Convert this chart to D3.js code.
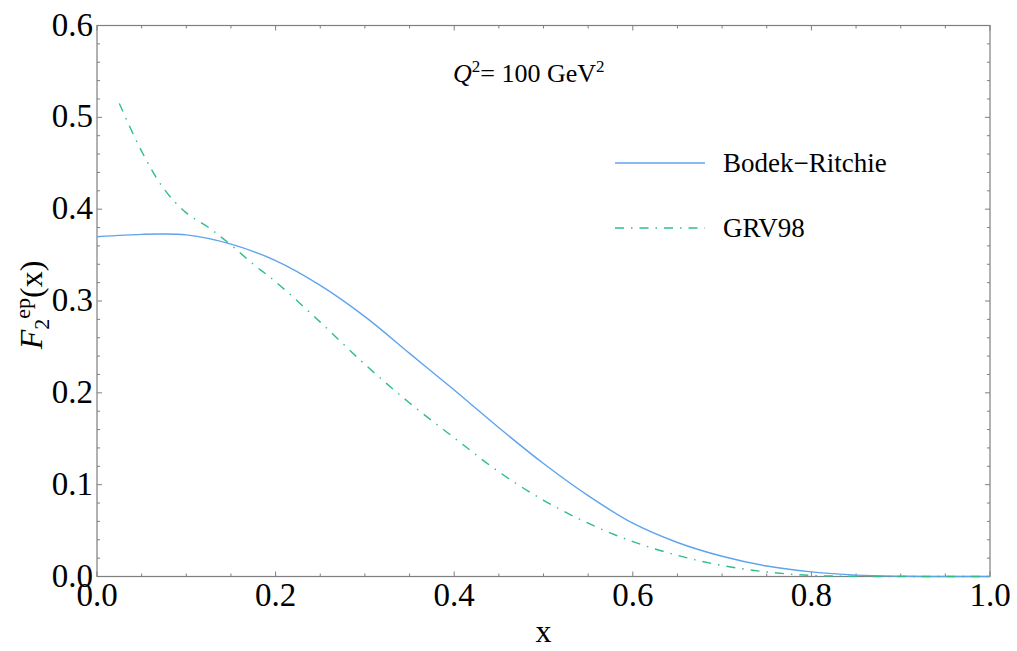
<!DOCTYPE html>
<html>
<head>
<meta charset="utf-8">
<script src="https://cdn.jsdelivr.net/npm/d3@7/dist/d3.min.js"></script>
<style>
  html, body { margin: 0; padding: 0; background: #fff; }
  svg { display: block; }
  text { font-family: "Liberation Serif", "Times New Roman", serif; fill: #000; }
</style>
</head>
<body>
<svg id="chart" width="1017" height="651"></svg>
<script>
// ---- Data ----
const brX = [0, 0.05, 0.07, 0.1, 0.15, 0.2, 0.25, 0.3, 0.35, 0.4, 0.45, 0.5, 0.55, 0.6, 0.65, 0.7, 0.75, 0.8, 0.85, 0.9, 0.95, 1.0];
const brY = [0.370, 0.3725, 0.373, 0.372, 0.362, 0.344, 0.317, 0.283, 0.243, 0.203, 0.162, 0.123, 0.088, 0.058, 0.037, 0.022, 0.0114, 0.005, 0.0015, 0.0003, 0, 0];
const grvX = [0.025, 0.05, 0.075, 0.1, 0.125, 0.15, 0.175, 0.2, 0.25, 0.3, 0.35, 0.4, 0.45, 0.5, 0.55, 0.6, 0.65, 0.7, 0.75, 0.8, 0.85, 0.9, 1.0];
const grvY = [0.515, 0.463, 0.422, 0.396, 0.380, 0.361, 0.340, 0.321, 0.277, 0.231, 0.189, 0.151, 0.114, 0.083, 0.058, 0.038, 0.023, 0.012, 0.005, 0.0012, 0.0002, 0, 0];
const seriesNames = ["Bodek\u2212Ritchie", "GRV98"];
const xTickLabels = ["0.0", "0.2", "0.4", "0.6", "0.8", "1.0"];
const yTickLabels = ["0.0", "0.1", "0.2", "0.3", "0.4", "0.5", "0.6"];

// ---- Layout ----
const svg = d3.select("#chart");
const L = 97, R = 990, T = 25.5, B = 576.5;
const x = d3.scaleLinear().domain([0, 1]).range([L, R]);
const y = d3.scaleLinear().domain([0, 0.6]).range([B, T]);
const frameColor = "#7f7f7f";
const blue = "#5fa3ef", green = "#2fbe8a";

// frame
svg.append("rect").attr("x", L).attr("y", T).attr("width", R - L).attr("height", B - T)
  .attr("fill", "none").attr("stroke", frameColor).attr("stroke-width", 1.2);

// ticks (inward, on all four sides)
const xMajor = xTickLabels.map(Number);
const xMinor = d3.range(0, 1.0001, 0.05).filter(v => !xMajor.some(m => Math.abs(m - v) < 1e-6));
const yMajor = yTickLabels.map(Number);
const yMinor = d3.range(0, 0.6001, 0.02).filter(v => !yMajor.some(m => Math.abs(m - v) < 1e-6));
const tg = svg.append("g").attr("stroke", frameColor).attr("stroke-width", 1);
function xt(v, len) {
  tg.append("line").attr("x1", x(v)).attr("x2", x(v)).attr("y1", B).attr("y2", B - len);
  tg.append("line").attr("x1", x(v)).attr("x2", x(v)).attr("y1", T).attr("y2", T + len);
}
function yt(v, len) {
  tg.append("line").attr("y1", y(v)).attr("y2", y(v)).attr("x1", L).attr("x2", L + len);
  tg.append("line").attr("y1", y(v)).attr("y2", y(v)).attr("x1", R).attr("x2", R - len);
}
xMajor.forEach(v => xt(v, 5)); xMinor.forEach(v => xt(v, 3));
yMajor.forEach(v => yt(v, 5)); yMinor.forEach(v => yt(v, 3));

// tick labels
svg.append("g").selectAll("text").data(xTickLabels).join("text")
  .attr("x", d => x(+d)).attr("y", B + 29).attr("text-anchor", "middle")
  .attr("font-size", 33).text(d => d);
svg.append("g").selectAll("text").data(yTickLabels).join("text")
  .attr("x", L - 4).attr("y", d => y(+d) + 10).attr("text-anchor", "end")
  .attr("font-size", 33).text(d => d);

// axis labels
svg.append("text").attr("x", (L + R) / 2).attr("y", 642).attr("text-anchor", "middle")
  .attr("font-size", 32).text("x");
const yl = svg.append("text").attr("transform", "translate(42,305) rotate(-90)")
  .attr("text-anchor", "middle").attr("font-size", 32);
yl.append("tspan").attr("font-style", "italic").text("F");
yl.append("tspan").attr("font-size", 22).attr("dy", 7).text("2");
yl.append("tspan").attr("font-size", 22).attr("dy", -19).text("ep");
yl.append("tspan").attr("dy", 12).text("(x)");

// curves
const line = d3.line().x(d => x(d[0])).y(d => y(d[1])).curve(d3.curveCatmullRom.alpha(0.5));
svg.append("path").datum(d3.zip(brX, brY)).attr("d", line)
  .attr("fill", "none").attr("stroke", blue).attr("stroke-width", 1.4);
svg.append("path").datum(d3.zip(grvX, grvY)).attr("d", line)
  .attr("fill", "none").attr("stroke", green).attr("stroke-width", 1.4)
  .attr("stroke-dasharray", "9,7,1.5,7");

// annotation
const q = svg.append("text").attr("x", 453).attr("y", 82).attr("font-size", 26);
q.append("tspan").attr("font-style", "italic").text("Q");
q.append("tspan").attr("font-size", 17).attr("dy", -10).text("2");
q.append("tspan").attr("dy", 10).text("= 100 GeV");
q.append("tspan").attr("font-size", 17).attr("dy", -10).text("2");

// legend
const leg = [{name: seriesNames[0], color: blue, dash: null, y: 163},
             {name: seriesNames[1], color: green, dash: "9,7,1.5,7", y: 228}];
leg.forEach(d => {
  svg.append("line").attr("x1", 615).attr("x2", 705).attr("y1", d.y).attr("y2", d.y)
    .attr("stroke", d.color).attr("stroke-width", 1.4).attr("stroke-dasharray", d.dash);
  svg.append("text").attr("x", 723).attr("y", d.y + 9).attr("font-size", 27).text(d.name);
});
</script>
</body>
</html>
